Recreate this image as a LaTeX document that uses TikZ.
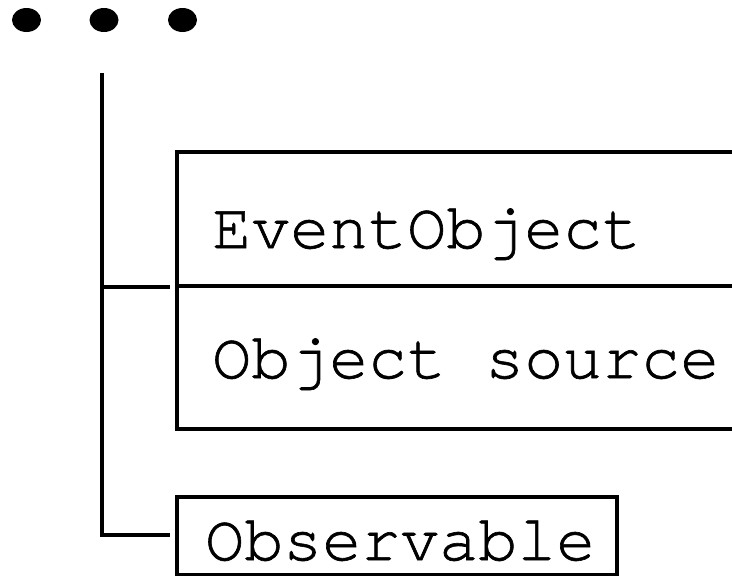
\documentclass[tikz,border=0pt]{standalone}
\usepackage{fontspec}
\setmonofont[FakeBold=1]{TeX Gyre Cursor}
\usetikzlibrary{shapes.geometric}
\begin{document}
\begin{tikzpicture}[x=1pt,y=-1pt,
  box/.style={draw, line width=4pt, rectangle, inner sep=0pt, anchor=north west},
  lbl/.style={inner sep=0pt, anchor=base west, font=\ttfamily\fontsize{65}{78}\selectfont},
  dot/.style={ellipse, fill=black, draw=none, minimum width=29pt, minimum height=24pt, inner sep=0pt},
  conn/.style={line width=4pt}]
\useasboundingbox (0,0) rectangle (732,576);
\clip (0,0) rectangle (732,576);
% dots
\node[dot] (d1) at (26.5,20) {};
\node[dot] (d2) at (104,20) {};
\node[dot] (d3) at (182.5,20) {};
% boxes
\node[box, minimum width=600pt, minimum height=134pt] (ev) at (175,150) {};
\node[box, minimum width=600pt, minimum height=143pt] (src) at (175,284) {};
\node[box, minimum width=440pt, minimum height=78pt] (obs) at (175,495) {};
% labels
\node[lbl] (t1) at (212,248) {EventObject};
\node[lbl] (t2) at (212,378) {Object source};
\node[lbl] (t3) at (205,560) {Observable};
% connectors
\coordinate (top) at (102,73);
\coordinate (j1) at (102,287);
\coordinate (e1) at (170,287);
\coordinate (e2) at (170,535);
\draw[conn] (top) |- (e2);
\draw[conn] (j1) -- (e1);
\end{tikzpicture}
\end{document}
